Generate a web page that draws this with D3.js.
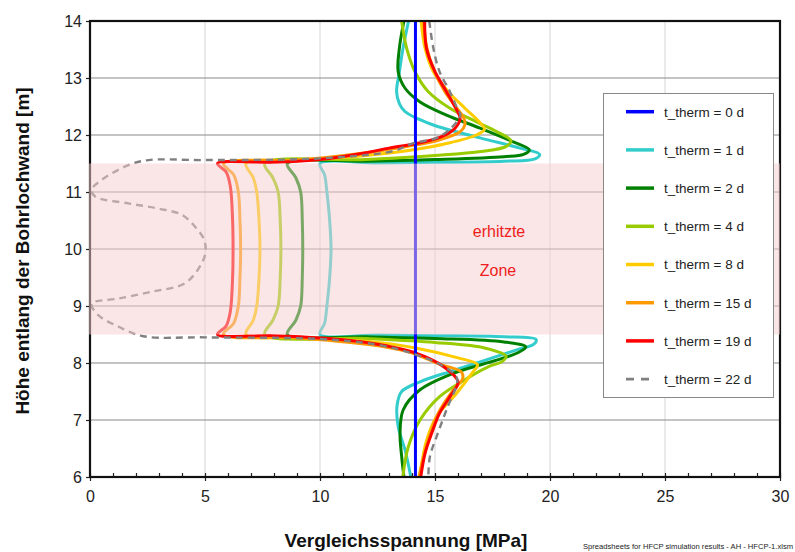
<!DOCTYPE html>
<html>
<head>
<meta charset="utf-8">
<script src="https://cdn.jsdelivr.net/npm/d3@7/dist/d3.min.js"></script>
<style>
  html, body { margin: 0; padding: 0; background: #fff; }
  svg { display: block; font-family: "Liberation Sans", Arial, sans-serif; }
</style>
</head>
<body>
<svg id="chart" width="795" height="552"></svg>
<script>
// Stress profiles along the borehole wall: [Vergleichsspannung MPa, Höhe m]
const t0 = [[14.15, 14.0], [14.15, 6.0]];
const t1 = [[13.85,14.0],[13.6,13.5],[13.45,13.1],[13.33,12.76],[13.45,12.55],[13.7,12.41],[14.9,12.18],[16.96,11.95],[18.7,11.77],[19.55,11.66],[19.35,11.58],[18.0,11.54],[15.0,11.52],[12.5,11.51],[10.0,11.5],[10.2,11.3],[10.3,11.0],[10.42,10.5],[10.48,10.0],[10.42,9.5],[10.3,9.0],[10.2,8.7],[10.0,8.5],[12.5,8.49],[15.0,8.48],[18.0,8.46],[19.4,8.41],[19.3,8.33],[18.55,8.23],[16.96,8.02],[15.65,7.85],[14.35,7.67],[13.55,7.5],[13.35,7.25],[13.4,6.88],[13.7,6.47],[13.95,6.0]];
const t2 = [[13.65,14.0],[13.45,13.52],[13.4,13.11],[13.7,12.82],[14.35,12.58],[15.5,12.35],[16.96,12.12],[18.4,11.88],[19.1,11.74],[18.85,11.66],[18.0,11.62],[15.0,11.57],[12.0,11.54],[8.58,11.5],[8.95,11.25],[9.16,11.0],[9.23,10.5],[9.25,10.0],[9.23,9.5],[9.16,9.0],[8.95,8.75],[8.58,8.5],[12.0,8.46],[15.0,8.43],[18.0,8.37],[18.95,8.28],[18.6,8.18],[17.68,8.05],[15.8,7.82],[14.35,7.53],[13.62,7.18],[13.48,6.77],[13.55,6.36],[13.65,6.0]];
const t4 = [[13.55,14.0],[13.77,13.52],[14.13,13.11],[14.71,12.76],[15.65,12.47],[16.81,12.23],[17.68,12.06],[18.3,11.9],[18.1,11.8],[17.0,11.71],[15.0,11.64],[12.0,11.57],[7.6,11.5],[7.95,11.25],[8.18,11.0],[8.27,10.5],[8.3,10.0],[8.27,9.5],[8.18,9.0],[7.95,8.75],[7.6,8.5],[12.0,8.43],[15.0,8.36],[17.2,8.26],[18.09,8.12],[17.9,8.02],[17.4,7.95],[16.52,7.76],[15.2,7.41],[14.35,7.0],[13.84,6.53],[13.6,6.0]];
const t8 = [[14.4,14.0],[14.57,13.52],[14.93,13.11],[15.58,12.76],[16.3,12.47],[16.95,12.22],[17.15,12.1],[16.8,12.0],[15.5,11.85],[14.06,11.74],[12.0,11.64],[9.0,11.55],[6.78,11.5],[7.1,11.25],[7.25,11.0],[7.35,10.5],[7.39,10.0],[7.35,9.5],[7.25,9.0],[7.1,8.75],[6.78,8.5],[9.0,8.45],[12.0,8.38],[14.2,8.26],[16.0,8.09],[16.85,7.97],[16.6,7.82],[15.94,7.47],[15.07,7.06],[14.64,6.65],[14.33,6.0]];
const t15 = [[14.5,14.0],[14.65,13.52],[14.98,13.11],[15.43,12.76],[15.95,12.47],[16.25,12.3],[16.3,12.18],[16.1,12.06],[15.07,11.9],[13.77,11.8],[12.0,11.69],[9.0,11.56],[5.8,11.5],[6.25,11.3],[6.45,11.0],[6.52,10.5],[6.55,10.0],[6.52,9.5],[6.45,9.0],[6.25,8.7],[5.8,8.5],[9.0,8.44],[12.0,8.33],[13.8,8.2],[15.2,7.98],[16.15,7.84],[16.2,7.72],[15.8,7.53],[15.14,7.12],[14.71,6.65],[14.3,6.0]];
const t19 = [[14.55,14.0],[14.63,13.52],[15.0,13.11],[15.5,12.76],[15.9,12.47],[16.09,12.29],[15.87,12.12],[15.29,11.97],[14.2,11.85],[13.0,11.77],[12.0,11.69],[10.0,11.57],[8.0,11.52],[5.54,11.5],[5.92,11.35],[6.1,11.1],[6.2,10.5],[6.22,10.0],[6.2,9.5],[6.1,8.9],[5.92,8.65],[5.54,8.5],[8.0,8.48],[10.0,8.44],[12.17,8.35],[14.2,8.17],[15.36,7.94],[16.0,7.67],[15.65,7.41],[15.2,7.12],[14.86,6.77],[14.57,6.42],[14.38,6.0]];
const t22 = [[14.75,14.0],[14.93,13.52],[15.2,13.11],[15.65,12.76],[15.96,12.47],[16.1,12.35],[15.7,12.12],[15.07,11.95],[14.0,11.85],[13.2,11.72],[10.0,11.59],[5.0,11.56],[2.54,11.56],[1.67,11.47],[0.5,11.21],[0.07,11.04],[0.22,10.92],[1.67,10.8],[2.97,10.71],[3.99,10.6],[4.57,10.39],[4.93,10.19],[5.03,9.98],[4.86,9.75],[4.13,9.4],[2.68,9.25],[1.23,9.13],[0.07,9.04],[0.36,8.84],[1.23,8.64],[2.32,8.47],[5.0,8.45],[10.0,8.42],[12.5,8.32],[14.0,8.17],[15.1,8.0],[15.8,7.82],[15.97,7.7],[15.5,7.18],[15.07,6.71],[14.78,6.36],[14.71,6.0]];

const seriesNames = ["t_therm = 0 d","t_therm = 1 d","t_therm = 2 d","t_therm = 4 d","t_therm = 8 d","t_therm = 15 d","t_therm = 19 d","t_therm = 22 d"];
const seriesColors = ["#0000ff","#33cccc","#008000","#99cc00","#ffcc00","#ff9900","#ff0000","#808080"];
const seriesData = [t0, t1, t2, t4, t8, t15, t19, t22];

const xTicks = [0, 5, 10, 15, 20, 25, 30];
const yTicks = [6, 7, 8, 9, 10, 11, 12, 13, 14];
const heatedZone = [8.5, 11.5];

const svg = d3.select("#chart");
const L = 90, R = 780, T = 21, B = 477;
const x = d3.scaleLinear().domain([0, 30]).range([L, R]);
const y = d3.scaleLinear().domain([6, 14]).range([B, T]);

// grid
const grid = svg.append("g");
grid.selectAll("line.v").data(xTicks.slice(1, -1)).join("line")
  .attr("x1", d => x(d)).attr("x2", d => x(d)).attr("y1", T).attr("y2", B)
  .attr("stroke", "#dcdcdc").attr("stroke-width", 1.2);
grid.selectAll("line.h").data(yTicks.slice(1, -1)).join("line")
  .attr("x1", L).attr("x2", R).attr("y1", d => y(d)).attr("y2", d => y(d))
  .attr("stroke", "#8a8a8a").attr("stroke-width", 1.2);

// curves
const line = d3.line().x(d => x(d[0])).y(d => y(d[1])).curve(d3.curveCatmullRom.alpha(0.5));
const drawOrder = [1, 2, 3, 4, 5, 6, 0, 7];
const curves = svg.append("g").attr("fill", "none").attr("stroke-linejoin", "round");
drawOrder.forEach(i => {
  curves.append("path")
    .attr("d", line(seriesData[i]))
    .attr("stroke", seriesColors[i])
    .attr("stroke-width", i === 7 ? 2.4 : 3)
    .attr("stroke-dasharray", i === 7 ? "7,5" : null);
});

// axes
const yAxis = svg.append("g").attr("transform", `translate(${L},0)`)
  .call(d3.axisLeft(y).tickValues(yTicks).tickSize(4).tickPadding(4).tickFormat(d3.format("d")));
const xAxis = svg.append("g").attr("transform", `translate(0,${B})`)
  .call(d3.axisBottom(x).tickValues(xTicks).tickSize(4).tickPadding(10).tickFormat(d3.format("d")));
const xMinor = svg.append("g").attr("transform", `translate(0,${B})`)
  .call(d3.axisTop(x).tickValues(d3.range(0, 31)).tickSize(4).tickFormat(""));
[yAxis, xAxis, xMinor].forEach(g => {
  g.select(".domain").remove();
  g.selectAll(".tick line").attr("stroke", "#222").attr("stroke-width", 1.2);
  g.selectAll(".tick text").attr("font-size", 16).attr("fill", "#222")
    .attr("font-family", "Liberation Sans, Arial, sans-serif");
});
svg.append("rect").attr("x", L).attr("y", T).attr("width", R - L).attr("height", B - T)
  .attr("fill", "none").attr("stroke", "#111").attr("stroke-width", 2.2);

// heated zone
svg.append("rect")
  .attr("x", x(0) - 1).attr("y", y(heatedZone[1]))
  .attr("width", x(30) - x(0) + 1).attr("height", y(heatedZone[0]) - y(heatedZone[1]))
  .attr("fill", "rgb(245,205,205)").attr("opacity", 0.5);

svg.append("text").attr("x", 499).attr("y", 237).attr("text-anchor", "middle")
  .attr("font-size", 16).attr("fill", "#ee1c1c").text("erhitzte");
svg.append("text").attr("x", 498).attr("y", 276).attr("text-anchor", "middle")
  .attr("font-size", 16).attr("fill", "#ee1c1c").text("Zone");

// legend
const lg = svg.append("g");
lg.append("rect").attr("x", 603.5).attr("y", 93.5).attr("width", 170).attr("height", 304)
  .attr("fill", "#fff").attr("stroke", "#888").attr("stroke-width", 1);
seriesNames.forEach((name, i) => {
  const cy = 111.7 + i * 38.2;
  lg.append("line").attr("x1", 626).attr("x2", 654).attr("y1", cy).attr("y2", cy)
    .attr("stroke", seriesColors[i]).attr("stroke-width", i === 7 ? 2.6 : 3.5)
    .attr("stroke-dasharray", i === 7 ? "8,7" : null);
  lg.append("text").attr("x", 664).attr("y", cy + 4.8)
    .attr("font-size", 13.5).attr("fill", "#222").text(name);
});

// axis titles
svg.append("text").attr("x", 406).attr("y", 547).attr("text-anchor", "middle")
  .attr("font-size", 19).attr("font-weight", "bold").attr("fill", "#111")
  .text("Vergleichsspannung [MPa]");
svg.append("text").attr("transform", "translate(29,251) rotate(-90)").attr("text-anchor", "middle")
  .attr("font-size", 19).attr("font-weight", "bold").attr("fill", "#111")
  .text("Höhe entlang der Bohrlochwand [m]");
svg.append("text").attr("x", 793).attr("y", 549).attr("text-anchor", "end")
  .attr("font-size", 7.6).attr("fill", "#222")
  .text("Spreadsheets for HFCP simulation results - AH - HFCP-1.xlsm");
</script>
</body>
</html>
